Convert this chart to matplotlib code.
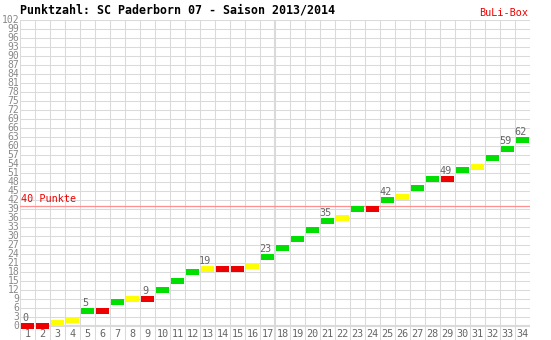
import matplotlib
matplotlib.use("Agg")
import matplotlib.pyplot as plt

# Spieltage 1..34, Punkte nach jedem Spieltag, Ergebnis (S/U/N)
matchdays = list(range(1, 35))
points = [0, 0, 1, 2, 5, 5, 8, 9, 9, 12, 15, 18, 19, 19, 19, 20, 23,
          26, 29, 32, 35, 36, 39, 39, 42, 43, 46, 49, 49, 52, 53, 56, 59, 62]
results = ["N", "N", "U", "U", "S", "N", "S", "U", "N", "S", "S", "S", "U", "N", "N", "U", "S",
           "S", "S", "S", "S", "U", "S", "N", "S", "U", "S", "S", "N", "S", "U", "S", "S", "S"]
labelled = [1, 5, 9, 13, 17, 21, 25, 29, 33, 34]
y_ticks = list(range(0, 103, 3))

RESULT_COLORS = {"S": "#00E000", "U": "#FFFF00", "N": "#EE0000"}
GRID = "#DADADA"
FONT = "DejaVu Sans Mono"

W, H = 551, 340
fig = plt.figure(figsize=(W / 100, H / 100), dpi=100)
ax = fig.add_axes([20 / W, 0, 510 / W, 1 - 20 / H])
ax.set_xlim(0.5, 34.5)
ax.set_ylim(-14 / 3, 102)
ax.set_axis_off()

# grid
for y in y_ticks:
    ax.axhline(y, color=GRID, linewidth=1.5 if y == 0 else 0.75, zorder=1)
for x in range(0, 35):
    ax.axvline(x + 0.5, color=GRID, linewidth=1.5 if x == 17 else 0.75, zorder=1)

# 40-Punkte-Linie
ax.axhline(40, color="#FF9090", linewidth=0.9, zorder=2)
ax.text(0.55, 42.3, "40 Punkte", color="#EE0000", fontsize=7.3, family=FONT,
        ha="left", va="center", zorder=4)

# Balken
colors = [RESULT_COLORS[r] for r in results]
ax.bar(matchdays, 1.7, bottom=[p - 0.85 for p in points], width=0.85,
       color=colors, zorder=3)

for md in labelled:
    ax.text(md - 0.15, points[md - 1] + 2.7, str(points[md - 1]), color="#666666",
            fontsize=7.3, family=FONT, ha="center", va="center", zorder=4)

# Achsenbeschriftungen
for y in y_ticks:
    ax.text(0.45, y, str(y), color="#888888", fontsize=7.0, family=FONT,
            ha="right", va="center", clip_on=False)
for md in matchdays:
    ax.text(md, -2.7, str(md), color="#666666", fontsize=7.3, family=FONT,
            ha="center", va="center")

fig.text(20 / W, 1 - 10 / H, "Punktzahl: SC Paderborn 07 - Saison 2013/2014",
         fontsize=8.4, fontweight="bold", family=FONT, ha="left", va="center")
fig.text(528 / W, 1 - 12.5 / H, "BuLi-Box", color="#EE0000", fontsize=7.3,
         family=FONT, ha="right", va="center")

fig.savefig("out.png", dpi=100)
